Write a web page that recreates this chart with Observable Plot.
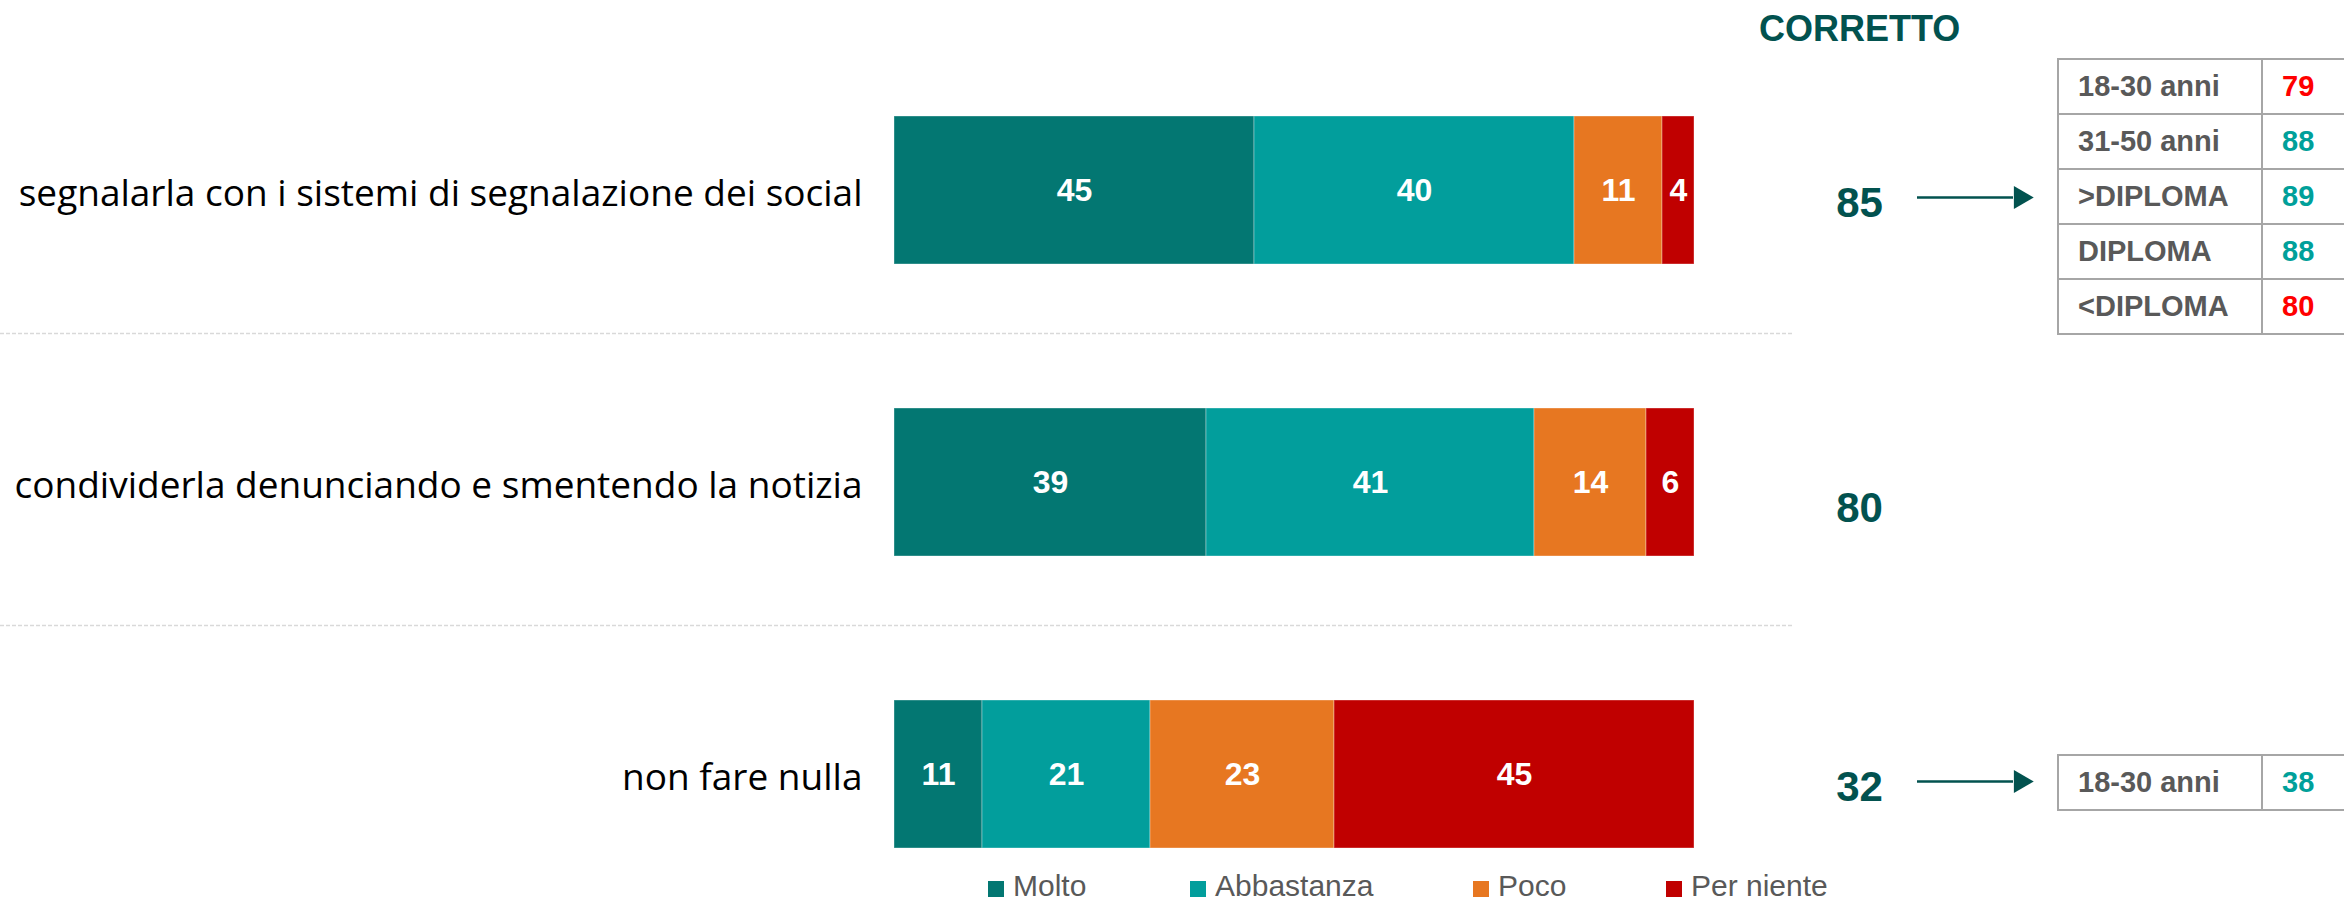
<!DOCTYPE html>
<html>
<head>
<meta charset="utf-8">
<script src="https://cdn.jsdelivr.net/npm/d3@7"></script>
<script src="https://cdn.jsdelivr.net/npm/@observablehq/plot@0.6"></script>
<style>
  html, body { margin: 0; padding: 0; background: #ffffff; }
  #wrap { position: relative; width: 2344px; height: 907px; overflow: hidden; background: #fff; }
  #chart { position: absolute; left: 0; top: 0; }
  .title { position: absolute; left: 1759px; width: 200px; top: 11px; text-align: center;
    font: bold 36px "Liberation Sans", Arial, sans-serif; color: #02524F; line-height: 36px; }
  table.bk { position: absolute; left: 2057px; width: 420px; table-layout: fixed; border-collapse: collapse;
    font: bold 29px "Liberation Sans", Arial, sans-serif; }
  table.bk td { border: 2px solid #a6a6a6; height: 55px; padding: 0 0 0 19px; color: #595959; line-height: 29px;
    box-sizing: border-box; white-space: nowrap; }
  .leg { position: absolute; top: 870px; font: 30px "Liberation Sans", Arial, sans-serif; color: #595959; line-height: 32px; white-space: nowrap; }
  .leg span.sw { display: inline-block; width: 16px; height: 16px; margin-right: 9px; vertical-align: -1px; }
</style>
</head>
<body>
<div id="wrap">
  <div id="chart"></div>
  <div class="title">CORRETTO</div>
</div>
<script>
// ---- data ----
const items = [
  "segnalarla con i sistemi di segnalazione dei social",
  "condividerla denunciando e smentendo la notizia",
  "non fare nulla"
];
const answers = ["Molto", "Abbastanza", "Poco", "Per niente"];
const answerColors = ["#037772", "#029E9C", "#E77721", "#C00000"];
const molto      = [45, 39, 11];
const abbastanza = [40, 41, 21];
const poco       = [11, 14, 23];
const perNiente  = [4, 6, 45];
const corretto   = [85, 80, 32];

const table1Labels = ["18-30 anni", "31-50 anni", ">DIPLOMA", "DIPLOMA", "<DIPLOMA"];
const table1Values = [79, 88, 89, 88, 80];
const table2Labels = ["18-30 anni"];
const table2Values = [38];

// ---- build tables for Plot ----
const series = [molto, abbastanza, poco, perNiente];
const rows = [];
items.forEach((item, i) => {
  answers.forEach((a, j) => rows.push({item, answer: a, value: series[j][i]}));
});
const totals = items.map((item, i) => ({item, corretto: corretto[i]}));
const arrowRows = [totals[0], totals[2]];

const FONT = "'Liberation Sans', Arial, sans-serif";
const TEAL_DARK = "#02524F";
const totalStyle = {
  y: "item", text: "corretto", frameAnchor: "right", textAnchor: "middle", dx: 165,
  fontSize: 42, fontWeight: "bold", fill: TEAL_DARK, fontFamily: FONT
};

const chart = Plot.plot({
  width: 2344,
  height: 907,
  marginLeft: 894,
  marginRight: 650,
  marginTop: 115,
  marginBottom: 59,
  style: {fontFamily: FONT, background: "transparent"},
  x: {domain: [0, 100], axis: null},
  y: {domain: items, paddingInner: 0.494, paddingOuter: 0, axis: null},
  color: {domain: answers, range: answerColors},
  marks: [
    Plot.ruleY(items.slice(0, 2), {
      y: d => d, dy: 143, insetLeft: -894, insetRight: -99,
      stroke: "#d9d9d9", strokeWidth: 1.5, strokeDasharray: "4,2"
    }),
    Plot.barX(rows, Plot.stackX({
      x: "value", y: "item", fill: "answer", order: null,
      stroke: "#ffffff", strokeOpacity: 0.35, strokeWidth: 1
    })),
    Plot.text(rows, Plot.stackX({
      x: "value", y: "item", z: "answer", text: "value", order: null,
      fill: "#ffffff", fontSize: 32, fontWeight: "bold", fontFamily: FONT
    })),
    Plot.axisY({
      tickSize: 0, tickPadding: 32, fontSize: 37, label: null, dy: 4,
      fontFamily: "'Open Sans', sans-serif", fill: "#000000"
    }),
    Plot.text(totals.filter((d, i) => i !== 1), {...totalStyle, dy: 13}),
    Plot.text(totals.filter((d, i) => i === 1), {...totalStyle, dy: 26}),
    Plot.ruleY(arrowRows, {
      y: "item", dy: 7, insetLeft: 1023, insetRight: -319,
      stroke: TEAL_DARK, strokeWidth: 2.5
    }),
    Plot.dot(arrowRows, {
      y: "item", frameAnchor: "right", dx: 326, dy: 7,
      symbol: "triangle", rotate: 90, r: 8.5, fill: TEAL_DARK, stroke: "none"
    })
  ]
});
document.getElementById("chart").appendChild(chart);

// ---- breakdown tables ----
function makeTable(labels, values, total, top) {
  const t = document.createElement("table");
  t.className = "bk";
  t.style.top = top + "px";
  const cg = document.createElement("colgroup");
  [204, 216].forEach(w => { const c = document.createElement("col"); c.style.width = w + "px"; cg.appendChild(c); });
  t.appendChild(cg);
  labels.forEach((lab, i) => {
    const tr = document.createElement("tr");
    const td1 = document.createElement("td");
    td1.textContent = lab;
    const td2 = document.createElement("td");
    td2.textContent = values[i];
    td2.style.color = values[i] < total ? "#FF0000" : "#00A09A";
    tr.appendChild(td1); tr.appendChild(td2);
    t.appendChild(tr);
  });
  document.getElementById("wrap").appendChild(t);
}
makeTable(table1Labels, table1Values, corretto[0], 58);
makeTable(table2Labels, table2Values, corretto[2], 754);

// ---- legend ----
const legX = [988, 1190, 1473, 1666];
answers.forEach((a, i) => {
  const d = document.createElement("div");
  d.className = "leg";
  d.style.left = legX[i] + "px";
  d.innerHTML = `<span class="sw" style="background:${answerColors[i]}"></span>${a}`;
  document.getElementById("wrap").appendChild(d);
});
</script>
</body>
</html>
